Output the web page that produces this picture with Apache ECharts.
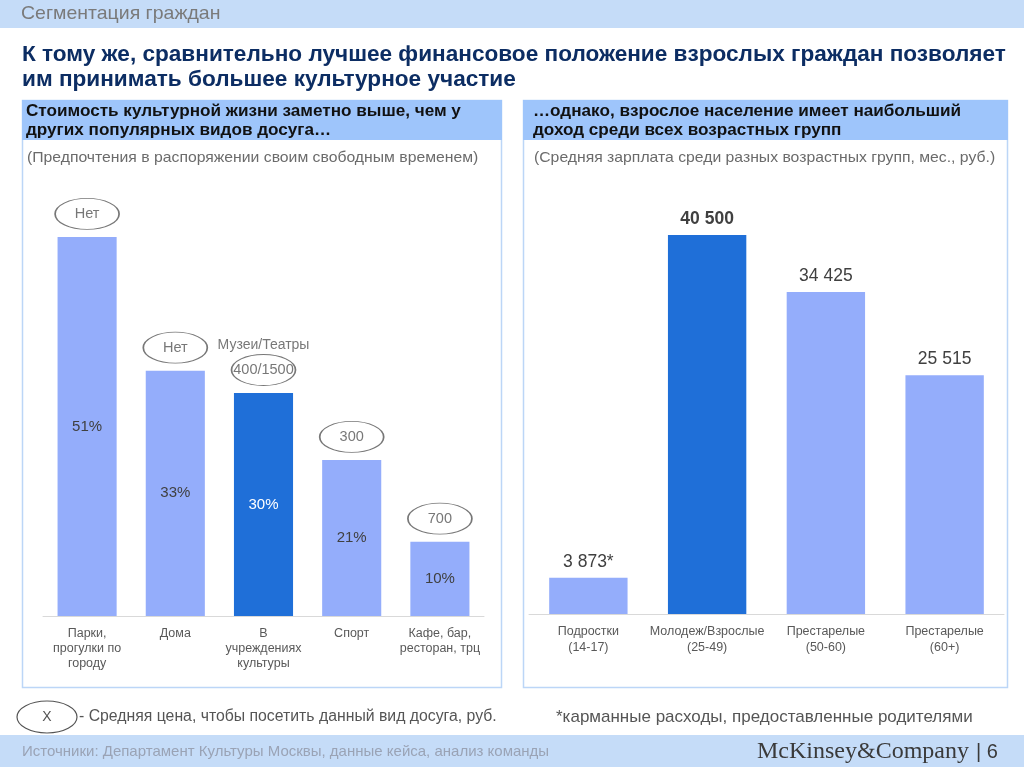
<!DOCTYPE html>
<html>
<head>
<meta charset="utf-8">
<script src="https://cdn.jsdelivr.net/npm/echarts@6/dist/echarts.min.js"></script>
<style>
html,body{margin:0;padding:0;background:#fff;}
#c{width:1024px;height:767px;}
</style>
</head>
<body>
<div id="c"></div>
<script>
// ---- data ----
const leftCategories = ['Парки,\nпрогулки по\nгороду', 'Дома', 'В\nучреждениях\nкультуры', 'Спорт', 'Кафе, бар,\nресторан, трц'];
const leftShares = [51, 33, 30, 21, 10];
const leftPrices = ['Нет', 'Нет', '400/1500', '300', '700'];
const leftHighlight = [false, false, true, false, false];
const leftNote = ['', '', 'Музеи/Театры', '', ''];

const rightCategories = ['Подростки\n(14-17)', 'Молодеж/Взрослые\n(25-49)', 'Престарелые\n(50-60)', 'Престарелые\n(60+)'];
const rightSalaries = [3873, 40500, 34425, 25515];
const rightSuffix = ['*', '', '', ''];
const rightHighlight = [false, true, false, false];

// ---- styles ----
const LIGHT = '#94adfb';
const DARK = '#1f6fd8';
const FONT = 'Arial, "Liberation Sans", sans-serif';
const ELLIPSE = 'path://M0,15 A32,15 0 1,1 64,15 A32,15 0 1,1 0,15 Z';

function fmt(v) {
  return String(v).replace(/\B(?=(\d{3})+(?!\d))/g, ' ');
}

const chart = echarts.init(document.getElementById('c'), null, {renderer: 'canvas'});

const option = {
  backgroundColor: '#ffffff',
  animation: false,
  textStyle: {fontFamily: FONT},
  grid: [
    {left: 43, right: 540, top: 170, bottom: 151},
    {left: 529, right: 20, top: 193, bottom: 153}
  ],
  xAxis: [
    {
      type: 'category', gridIndex: 0, data: leftCategories,
      axisLine: {lineStyle: {color: '#d9d9d9'}},
      axisTick: {show: false},
      axisLabel: {color: '#595959', fontSize: 12.5, lineHeight: 15, margin: 10, interval: 0, fontFamily: FONT}
    },
    {
      type: 'category', gridIndex: 1, data: rightCategories,
      axisLine: {lineStyle: {color: '#d9d9d9'}},
      axisTick: {show: false},
      axisLabel: {color: '#595959', fontSize: 12.5, lineHeight: 16, margin: 10, interval: 0, fontFamily: FONT}
    }
  ],
  yAxis: [
    {type: 'value', gridIndex: 0, min: 0, max: 60, show: false},
    {type: 'value', gridIndex: 1, min: 0, max: 45000, show: false}
  ],
  series: [
    {
      type: 'bar', xAxisIndex: 0, yAxisIndex: 0, barWidth: '67%',
      data: leftShares.map((v, i) => ({
        value: v,
        itemStyle: {color: leftHighlight[i] ? DARK : LIGHT},
        label: {color: leftHighlight[i] ? '#ffffff' : '#404040'}
      })),
      label: {show: true, position: 'inside', fontSize: 15, formatter: p => p.value + '%', fontFamily: FONT}
    },
    {
      type: 'scatter', xAxisIndex: 0, yAxisIndex: 0,
      symbol: ELLIPSE, symbolSize: [64, 31], symbolOffset: [0, -23],
      itemStyle: {color: '#ffffff', borderColor: '#555555', borderWidth: 1.2},
      data: leftShares.map((v, i) => ({value: v, name: leftPrices[i]})),
      label: {show: true, position: 'inside', color: '#555555', fontSize: 14.5, formatter: p => p.name, fontFamily: FONT},
      z: 5
    },
    {
      type: 'scatter', xAxisIndex: 0, yAxisIndex: 0,
      symbolSize: 1, itemStyle: {color: 'rgba(0,0,0,0)'},
      data: leftShares.map((v, i) => leftNote[i] ? {value: v, name: leftNote[i]} : '-'),
      label: {show: true, position: 'inside', offset: [0, -48], color: '#555555', fontSize: 14, formatter: p => p.name, fontFamily: FONT},
      z: 5
    },
    {
      type: 'bar', xAxisIndex: 1, yAxisIndex: 1, barWidth: '66%',
      data: rightSalaries.map((v, i) => ({
        value: v,
        itemStyle: {color: rightHighlight[i] ? DARK : LIGHT},
        label: {fontWeight: rightHighlight[i] ? 'bold' : 'normal'}
      })),
      label: {
        show: true, position: 'top', distance: 7, color: '#404040', fontSize: 17.5, fontFamily: FONT,
        formatter: p => fmt(p.value) + rightSuffix[p.dataIndex]
      }
    }
  ],
  graphic: [
    // top band
    {type: 'rect', shape: {x: 0, y: 0, width: 1024, height: 28}, style: {fill: '#c5dcf8'}, z: -10},
    {type: 'text', x: 21, y: 14, scaleX: 1.06, style: {text: 'Сегментация граждан', fill: '#7a7a7a', font: '18.4px ' + FONT, textVerticalAlign: 'middle'}},
    // title
    {type: 'text', x: 22, y: 55, style: {text: 'К тому же, сравнительно лучшее финансовое положение взрослых граждан позволяет', fill: '#0c2d63', font: 'bold 22.6px ' + FONT, textVerticalAlign: 'middle'}},
    {type: 'text', x: 22, y: 80, style: {text: 'им принимать большее культурное участие', fill: '#0c2d63', font: 'bold 22.6px ' + FONT, textVerticalAlign: 'middle'}},
    // left panel
    {type: 'rect', shape: {x: 22.5, y: 100.5, width: 479, height: 587}, style: {fill: 'none', stroke: '#bcd6f7', lineWidth: 1.5}, z: -9},
    {type: 'rect', shape: {x: 22, y: 100, width: 480, height: 40}, style: {fill: '#9ec5fb'}, z: -8},
    {type: 'text', x: 26, y: 112, scaleX: 1.07, style: {text: 'Стоимость культурной жизни заметно выше, чем у', fill: '#111111', font: 'bold 16px ' + FONT, textVerticalAlign: 'middle'}},
    {type: 'text', x: 26, y: 131, scaleX: 1.07, style: {text: 'других популярных видов досуга…', fill: '#111111', font: 'bold 16px ' + FONT, textVerticalAlign: 'middle'}},
    {type: 'text', x: 27, y: 158, scaleX: 1.05, style: {text: '(Предпочтения в распоряжении своим свободным временем)', fill: '#6b6b6b', font: '15px ' + FONT, textVerticalAlign: 'middle'}},
    // right panel
    {type: 'rect', shape: {x: 523.5, y: 100.5, width: 484, height: 587}, style: {fill: 'none', stroke: '#bcd6f7', lineWidth: 1.5}, z: -9},
    {type: 'rect', shape: {x: 523, y: 100, width: 485, height: 40}, style: {fill: '#9ec5fb'}, z: -8},
    {type: 'text', x: 533, y: 112, scaleX: 1.07, style: {text: '…однако, взрослое население имеет наибольший', fill: '#111111', font: 'bold 16px ' + FONT, textVerticalAlign: 'middle'}},
    {type: 'text', x: 533, y: 131, scaleX: 1.07, style: {text: 'доход среди всех возрастных групп', fill: '#111111', font: 'bold 16px ' + FONT, textVerticalAlign: 'middle'}},
    {type: 'text', x: 534, y: 158, scaleX: 1.05, style: {text: '(Средняя зарплата среди разных возрастных групп, мес., руб.)', fill: '#6b6b6b', font: '15px ' + FONT, textVerticalAlign: 'middle'}},
    // legend
    {type: 'ellipse', shape: {cx: 47, cy: 717, rx: 30, ry: 16}, style: {fill: '#ffffff', stroke: '#555555', lineWidth: 1.2}},
    {type: 'text', x: 47, y: 717, style: {text: 'X', fill: '#555555', font: '14px ' + FONT, textAlign: 'center', textVerticalAlign: 'middle'}},
    {type: 'text', x: 79, y: 717, style: {text: '- Средняя цена, чтобы посетить данный вид досуга, руб.', fill: '#555555', font: '15.8px ' + FONT, textVerticalAlign: 'middle'}},
    {type: 'text', x: 556, y: 717, style: {text: '*карманные расходы, предоставленные родителями', fill: '#555555', font: '17px ' + FONT, textVerticalAlign: 'middle'}},
    // footer
    {type: 'rect', shape: {x: 0, y: 735, width: 1024, height: 32}, style: {fill: '#c5dcf8'}, z: -10},
    {type: 'text', x: 22, y: 752, style: {text: 'Источники: Департамент Культуры Москвы, данные кейса, анализ команды', fill: '#9aa3b5', font: '15px ' + FONT, textVerticalAlign: 'middle'}},
    {type: 'text', x: 757, y: 752, style: {text: 'McKinsey&Company', fill: '#3a3a3a', font: '24px "Liberation Serif", "DejaVu Serif", serif', textVerticalAlign: 'middle'}},
    {type: 'text', x: 976, y: 752, style: {text: '| 6', fill: '#3a3a3a', font: '20px ' + FONT, textVerticalAlign: 'middle'}}
  ]
};
chart.setOption(option);
</script>
</body>
</html>
